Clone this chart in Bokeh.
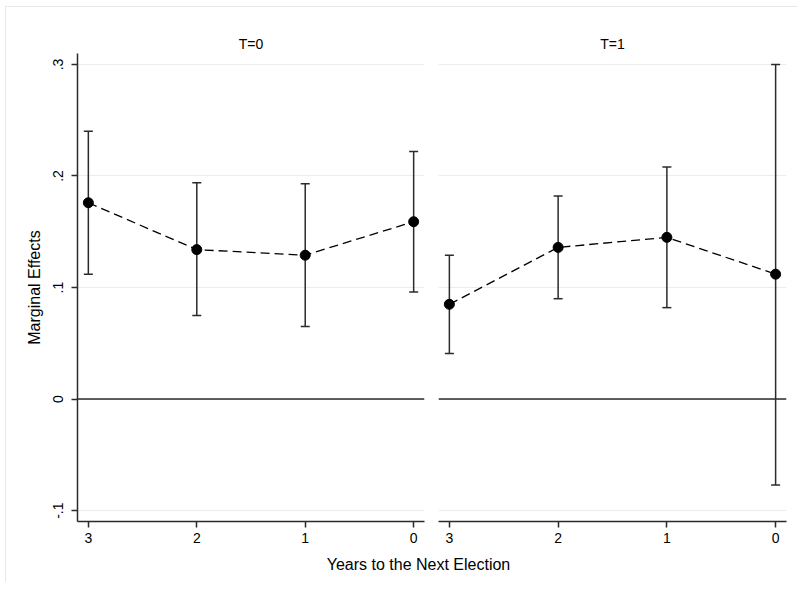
from bokeh.plotting import figure
from bokeh.models import (Range1d, FixedTicker, Whisker, TeeHead, ColumnDataSource,
                          Span, Grid, Label)
from bokeh.layouts import row, column
from bokeh.embed import file_html
from bokeh.resources import INLINE

# ---- data ----
years = [3, 2, 1, 0]
t0_est = [0.176, 0.134, 0.129, 0.159]
t0_lo = [0.112, 0.075, 0.065, 0.096]
t0_hi = [0.240, 0.194, 0.193, 0.222]
t1_est = [0.085, 0.136, 0.145, 0.112]
t1_lo = [0.041, 0.090, 0.082, -0.077]
t1_hi = [0.129, 0.182, 0.208, 0.300]
y_ticks = [-0.1, 0, 0.1, 0.2, 0.3]
y_tick_labels = ["-.1", "0", ".1", ".2", ".3"]
x_ticks = [3, 2, 1, 0]
panel_titles = ["T=0", "T=1"]
y_label = "Marginal Effects"
x_label = "Years to the Next Election"

FONT = "Liberation Sans"
DARK = "#2b2b2b"
GRIDC = "#ececec"


def make_panel(title, est, lo, hi, first):
    if first:
        w, bl, br = 431, 77, 7
    else:
        w, bl, br = 366, 7, 11
    p = figure(width=w, height=550, output_backend="svg", toolbar_location=None,
               x_range=Range1d(3.1, -0.1), y_range=Range1d(-0.1097, 0.3098),
               y_axis_location="left" if first else None,
               min_border_left=bl, min_border_right=br,
               min_border_top=53, min_border_bottom=29)
    p.outline_line_color = None
    p.background_fill_color = None
    p.border_fill_color = None
    p.xgrid.visible = False
    for g in p.ygrid:
        g.visible = False
    p.add_layout(Grid(dimension=1, ticker=FixedTicker(ticks=y_ticks),
                      grid_line_color=GRIDC, grid_line_width=1))

    p.title.text = title
    p.title.align = "center"
    p.title.text_font = FONT
    p.title.text_font_size = "14px"
    p.title.text_font_style = "normal"
    p.title.text_color = "black"
    p.title.standoff = 4

    xa = p.xaxis[0]
    xa.ticker = FixedTicker(ticks=x_ticks)
    xa.axis_line_color = DARK
    xa.axis_line_width = 1.5
    xa.major_tick_line_color = DARK
    xa.major_tick_line_width = 1.5
    xa.major_tick_out = 6
    xa.major_tick_in = 0
    xa.minor_tick_line_color = None
    xa.major_label_text_font = FONT
    xa.major_label_text_font_size = "14px"
    xa.major_label_text_color = "black"
    xa.major_label_standoff = 5

    if first:
        ya = p.yaxis[0]
        ya.ticker = FixedTicker(ticks=y_ticks)
        ya.major_label_overrides = {t: l for t, l in zip(y_ticks, y_tick_labels)}
        ya.major_label_orientation = "vertical"
        ya.axis_line_color = DARK
        ya.axis_line_width = 1.5
        ya.major_tick_line_color = DARK
        ya.major_tick_line_width = 1.5
        ya.major_tick_out = 6
        ya.major_tick_in = 0
        ya.minor_tick_line_color = None
        ya.major_label_text_font = FONT
        ya.major_label_text_font_size = "14px"
        ya.major_label_text_color = "black"
        ya.major_label_standoff = 8
        ya.axis_label = y_label
        ya.axis_label_text_font = FONT
        ya.axis_label_text_font_size = "16px"
        ya.axis_label_text_font_style = "normal"
        ya.axis_label_text_color = "black"
        ya.axis_label_standoff = 8

    p.add_layout(Span(location=0, dimension="width", line_color=DARK, line_width=1.5))

    src = ColumnDataSource(dict(x=years, est=est, lo=lo, hi=hi))
    p.add_layout(Whisker(source=src, base="x", upper="hi", lower="lo",
                         line_color=DARK, line_width=1.5,
                         upper_head=TeeHead(size=9, line_color=DARK, line_width=1.5),
                         lower_head=TeeHead(size=9, line_color=DARK, line_width=1.5)))
    p.line("x", "est", source=src, line_color="black", line_width=1.3, line_dash="9 5")
    p.scatter("x", "est", source=src, size=10, color="black")
    return p


p1 = make_panel(panel_titles[0], t0_est, t0_lo, t0_hi, True)
p2 = make_panel(panel_titles[1], t1_est, t1_lo, t1_hi, False)

p3 = figure(width=797, height=32, output_backend="svg", toolbar_location=None,
            x_range=Range1d(0, 797), y_range=Range1d(0, 32),
            x_axis_location=None, y_axis_location=None,
            min_border=0)
p3.outline_line_color = None
p3.background_fill_color = None
p3.border_fill_color = None
p3.xgrid.visible = False
p3.ygrid.visible = False
p3.add_layout(Label(x=418, y=18, text=x_label, text_align="center",
                    text_baseline="middle", text_font=FONT,
                    text_font_size="16px", text_color="black"))

frame_css = {
    "background": ("linear-gradient(#e8e8e8, #e8e8e8) 5px 6px / 1px 100% no-repeat, "
                   "linear-gradient(#e8e8e8, #e8e8e8) 5px 6px / 100% 1px no-repeat, white"),
}
layout = column(row(p1, p2), p3, styles=frame_css)
open("out.html", "w").write(file_html(layout, INLINE))
